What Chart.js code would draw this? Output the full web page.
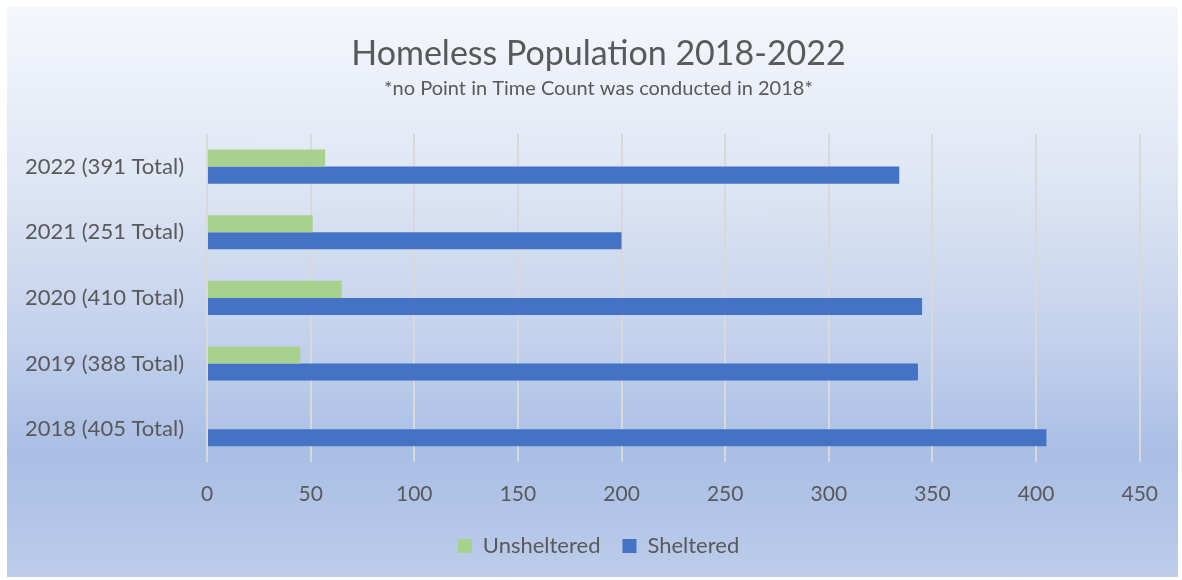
<!DOCTYPE html>
<html>
<head>
<meta charset="utf-8">
<script src="https://cdn.jsdelivr.net/npm/chart.js@4/dist/chart.umd.min.js"></script>
<style>
    html, body { margin: 0; padding: 0; background: #fff; }
    .frame {
        position: absolute; left: 7px; top: 7px; width: 1171px; height: 570px;
        background: linear-gradient(to bottom, #f5f7fc 0%, #dfe6f4 30%, #c3d1ec 58%, #aabfe5 78%, #b1c4e7 88%, #bdcdea 100%);
    }
    canvas { display: block; }
</style>
</head>
<body>
<div class="frame"><canvas id="chart" width="1171" height="570"></canvas></div>
<script>
const categories = ['2022 (391 Total)', '2021 (251 Total)', '2020 (410 Total)', '2019 (388 Total)', '2018 (405 Total)'];
const unsheltered = [57, 51, 65, 45, null];
const sheltered = [334, 200, 345, 343, 405];
const xTicks = [0, 50, 100, 150, 200, 250, 300, 350, 400, 450];

const textColor = '#595959';
const fontFamily = 'Lato, "Open Sans", sans-serif';

Chart.defaults.font.family = fontFamily;
Chart.defaults.color = textColor;

new Chart(document.getElementById('chart'), {
    type: 'bar',
    data: {
        labels: categories,
        datasets: [
            { label: 'Unsheltered', data: unsheltered, backgroundColor: '#a9d18e', borderWidth: 0 },
            { label: 'Sheltered', data: sheltered, backgroundColor: '#4472c4', borderWidth: 0 }
        ]
    },
    options: {
        indexAxis: 'y',
        responsive: false,
        animation: false,
        layout: { padding: { left: 12, right: 0, top: 0, bottom: 10 } },
        datasets: { bar: { categoryPercentage: 0.52, barPercentage: 1 } },
        scales: {
            x: {
                min: 0,
                max: 450,
                afterBuildTicks: s => { s.ticks = xTicks.map(v => ({ value: v })); },
                afterFit: s => { s.height = 51; },
                grid: { color: '#d9d9d9', lineWidth: 2, drawTicks: false },
                border: { display: false },
                ticks: { padding: 20, font: { size: 21 }, color: textColor }
            },
            y: {
                afterFit: s => { s.width = 188; },
                grid: { display: false, drawTicks: false },
                border: { display: false },
                ticks: { padding: 23, font: { size: 22 }, color: textColor }
            },
            // empty right-hand gutter so the plot ends before the frame edge
            yRight: {
                type: 'category',
                position: 'right',
                afterFit: s => { s.width = 38; },
                grid: { display: false, drawTicks: false },
                border: { display: false },
                ticks: { display: false }
            }
        },
        plugins: {
            title: {
                display: true,
                text: 'Homeless Population 2018-2022',
                font: { size: 34, weight: 'normal' },
                color: textColor,
                padding: { top: 27, bottom: 2 }
            },
            subtitle: {
                display: true,
                text: '*no Point in Time Count was conducted in 2018*',
                font: { size: 20 },
                color: textColor,
                padding: { top: 0, bottom: 33 }
            },
            legend: {
                position: 'bottom',
                labels: { boxWidth: 14, boxHeight: 14, font: { size: 22 }, color: textColor, padding: 22 }
            },
            tooltip: { enabled: false }
        }
    }
});
</script>
</body>
</html>
